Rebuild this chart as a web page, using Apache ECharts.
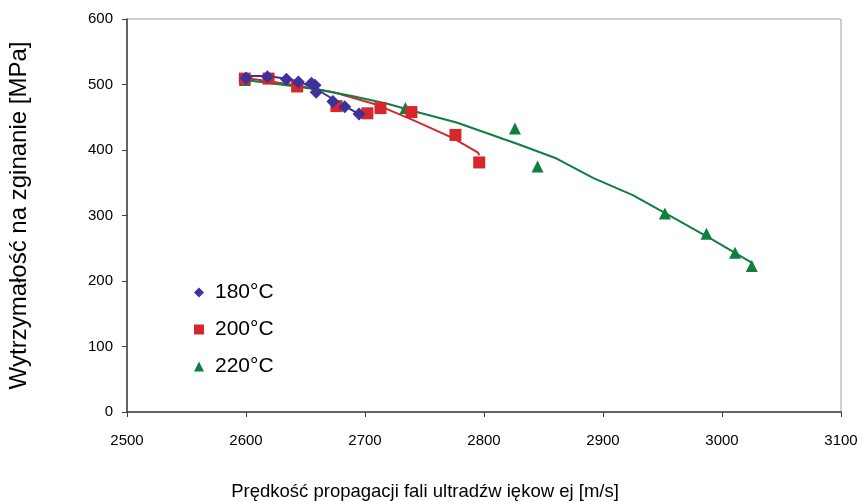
<!DOCTYPE html>
<html>
<head>
<meta charset="utf-8">
<script src="https://cdn.jsdelivr.net/npm/echarts@6/dist/echarts.min.js"></script>
<style>
  html, body { margin: 0; padding: 0; background: #fff; }
  #chart { width: 863px; height: 501px; }
</style>
</head>
<body>
<div id="chart"></div>
<script>
// measured points [speed m/s, strength MPa]
const pts180 = [
  [2600, 510], [2618, 512], [2634, 508], [2644, 504], [2655, 502],
  [2658, 499], [2659, 488], [2673, 474], [2683, 466], [2695, 455]
]
const pts200 = [
  [2599, 509], [2619, 509], [2643, 497], [2676, 467], [2702, 456],
  [2713, 464], [2739, 458], [2776, 423], [2796, 381]
]
const pts220 = [
  [2599, 507], [2734, 464], [2826, 433], [2845, 375], [2952, 303],
  [2987, 272], [3011, 243], [3025, 223]
]

// trend lines
const trend180 = [
  [2599, 513], [2618, 513], [2637, 508], [2649, 501], [2660, 492],
  [2672, 479], [2683, 467], [2694, 456]
]
const trend200 = [
  [2600, 510], [2642, 499], [2676, 487], [2710, 469], [2740, 446],
  [2774, 418], [2795, 396], [2796, 392]
]
const trend220 = [
  [2599, 507], [2634, 499], [2662, 492], [2690, 482], [2718, 471],
  [2746, 457], [2777, 442], [2802, 426], [2830, 408], [2861, 387],
  [2892, 357], [2925, 331], [2953, 303], [2992, 263], [3026, 227]
]

const names = ['180°C', '200°C', '220°C']
const colors = ['#3b3399', '#d6262e', '#0f7f3f']
const symbols = ['diamond', 'rect', 'triangle']

const chart = echarts.init(document.getElementById('chart'))
const font = 'Liberation Sans, Arial, sans-serif'

const axisCommon = {
  axisLine: { show: true, lineStyle: { color: '#404040', width: 1.5 } },
  axisTick: { show: true, inside: false, length: 5, lineStyle: { color: '#404040' } },
  splitLine: { show: false },
  axisLabel: { color: '#000', fontSize: 15, fontFamily: font },
}

chart.setOption({
  animation: false,
  backgroundColor: '#fff',
  grid: {
    left: 127, right: 22, top: 19, bottom: 89,
    outerBoundsMode: 'none',
    show: true, borderColor: '#a0a0a0', borderWidth: 1,
  },
  legend: {
    orient: 'vertical',
    left: 189,
    top: 277,
    itemGap: 16,
    itemWidth: 10,
    itemHeight: 10,
    textStyle: { fontSize: 21, fontFamily: font, color: '#000', padding: [0, 0, 0, 6] },
    data: names.map((n, i) => ({ name: n, icon: symbols[i] })),
  },
  xAxis: Object.assign({}, axisCommon, {
    type: 'value',
    min: 2500, max: 3100, interval: 100,
    name: 'Prędkość propagacji fali ultradźw iękow ej [m/s]',
    nameLocation: 'middle',
    nameGap: 70,
    nameTextStyle: { color: '#000', fontSize: 18.5, fontFamily: font, padding: [0, 118, 0, 0] },
    axisLabel: Object.assign({}, axisCommon.axisLabel, { margin: 21, formatter: v => String(v) }),
  }),
  yAxis: Object.assign({}, axisCommon, {
    type: 'value',
    min: 0, max: 600, interval: 100,
    name: 'Wytrzymałość na zginanie [MPa]',
    nameLocation: 'middle',
    nameGap: 96,
    nameTextStyle: { color: '#000', fontSize: 24, fontFamily: font },
    axisLabel: Object.assign({}, axisCommon.axisLabel, { margin: 14 }),
  }),
  series: [
    { name: 't180', type: 'line', data: trend180, showSymbol: false,
      lineStyle: { color: colors[0], width: 2 }, z: 2 },
    { name: 't200', type: 'line', data: trend200, showSymbol: false,
      lineStyle: { color: colors[1], width: 2 }, z: 2 },
    { name: 't220', type: 'line', data: trend220, showSymbol: false,
      lineStyle: { color: colors[2], width: 2 }, z: 2 },
    { name: names[0], type: 'scatter', data: pts180, symbol: symbols[0], symbolSize: 13,
      itemStyle: { color: colors[0], opacity: 1 }, z: 5 },
    { name: names[1], type: 'scatter', data: pts200, symbol: symbols[1], symbolSize: 12,
      itemStyle: { color: colors[1], opacity: 1 }, z: 4 },
    { name: names[2], type: 'scatter', data: pts220, symbol: symbols[2], symbolSize: 12,
      itemStyle: { color: colors[2], opacity: 1 }, z: 3 },
  ],
})
</script>
</body>
</html>
